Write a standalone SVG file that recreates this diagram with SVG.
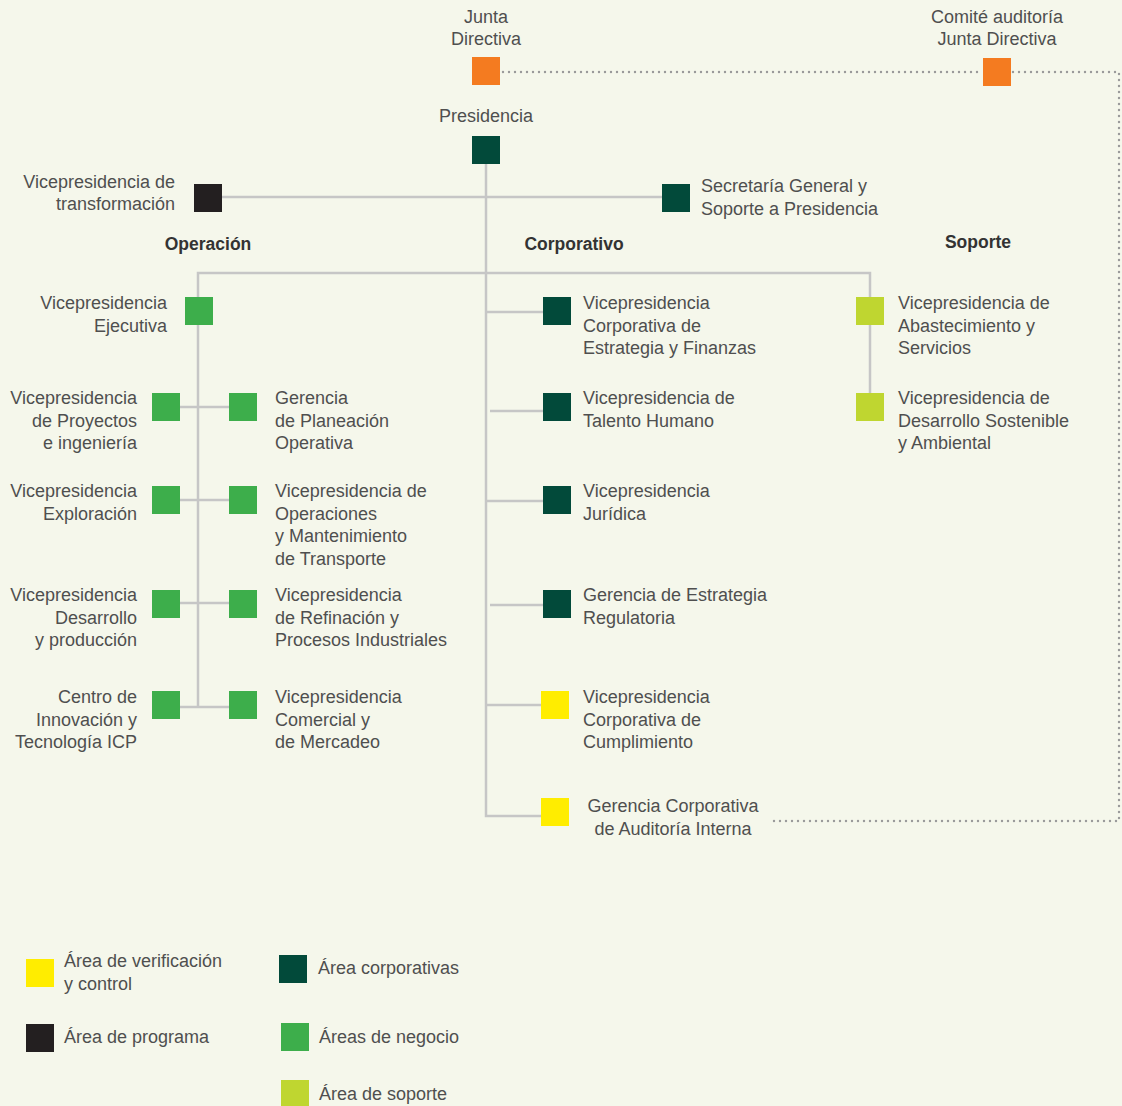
<svg xmlns="http://www.w3.org/2000/svg" width="1122" height="1106" viewBox="0 0 1122 1106">
<style>
text{font-family:"Liberation Sans",Arial,sans-serif;font-size:18px;fill:#4f4f4f}
.h{font-weight:bold;font-size:17.5px;fill:#333}
.e{text-anchor:end}
.m{text-anchor:middle}
.ln{stroke:#c6c6c6;stroke-width:2.5;fill:none}
.dot{stroke:#9a9a9a;stroke-width:2.4;fill:none;stroke-dasharray:0 6;stroke-linecap:round}
.or{fill:#f47b20}.dg{fill:#024a3a}.gr{fill:#3dae4b}.lm{fill:#bfd630}.ye{fill:#ffed00}.bk{fill:#231f20}
</style>
<rect width="1122" height="1106" fill="#f5f7eb"/>
<g id="connectors">
<path class="dot" d="M503,72 H983"/>
<path class="dot" d="M1013,72 H1119 V821 H773"/>
<path class="ln" d="M486,164 V816 H541"/>
<path class="ln" d="M222,197 H662"/>
<path class="ln" d="M198,707 V273 H870 V394"/>
<path class="ln" d="M180,407 H229 M180,500 H229 M180,603 H229 M180,707 H229"/>
<path class="ln" d="M486,312 H543 M490,411 H543 M486,501 H543 M490,605 H543 M486,705 H541"/>
</g>
<g id="headings">
<text class="h m" x="208" y="250">Operación</text>
<text class="h m" x="574" y="250">Corporativo</text>
<text class="h m" x="978" y="248">Soporte</text>
</g>
<g id="junta"><rect class="or" x="472" y="57" width="28" height="28"/><text class="m" x="486" y="23">Junta<tspan x="486" dy="22">Directiva</tspan></text></g>
<g id="comite"><rect class="or" x="983" y="58" width="28" height="28"/><text class="m" x="997" y="23">Comité auditoría<tspan x="997" dy="22">Junta Directiva</tspan></text></g>
<g id="presidencia"><rect class="dg" x="472" y="136" width="28" height="28"/><text class="m" x="486" y="122">Presidencia</text></g>
<g id="vp-transformacion"><rect class="bk" x="194" y="184" width="28" height="28"/><text class="e" x="175" y="188">Vicepresidencia de<tspan x="175" dy="22">transformación</tspan></text></g>
<g id="secretaria"><rect class="dg" x="662" y="184" width="28" height="28"/><text x="701" y="192">Secretaría General y<tspan x="701" dy="23">Soporte a Presidencia</tspan></text></g>
<g id="vp-ejecutiva"><rect class="gr" x="185" y="297" width="28" height="28"/><text class="e" x="167" y="309">Vicepresidencia<tspan x="167" dy="23">Ejecutiva</tspan></text></g>
<g id="vp-proyectos"><rect class="gr" x="152" y="393" width="28" height="28"/><text class="e" x="137" y="404">Vicepresidencia<tspan x="137" dy="22.5">de Proyectos</tspan><tspan x="137" dy="22.5">e ingeniería</tspan></text></g>
<g id="g-planeacion"><rect class="gr" x="229" y="393" width="28" height="28"/><text x="275" y="404">Gerencia<tspan x="275" dy="22.5">de Planeación</tspan><tspan x="275" dy="22.5">Operativa</tspan></text></g>
<g id="vp-exploracion"><rect class="gr" x="152" y="486" width="28" height="28"/><text class="e" x="137" y="497">Vicepresidencia<tspan x="137" dy="23">Exploración</tspan></text></g>
<g id="vp-operaciones"><rect class="gr" x="229" y="486" width="28" height="28"/><text x="275" y="497">Vicepresidencia de<tspan x="275" dy="22.5">Operaciones</tspan><tspan x="275" dy="22.5">y Mantenimiento</tspan><tspan x="275" dy="22.5">de Transporte</tspan></text></g>
<g id="vp-desarrollo"><rect class="gr" x="152" y="590" width="28" height="28"/><text class="e" x="137" y="601">Vicepresidencia<tspan x="137" dy="22.5">Desarrollo</tspan><tspan x="137" dy="22.5">y producción</tspan></text></g>
<g id="vp-refinacion"><rect class="gr" x="229" y="590" width="28" height="28"/><text x="275" y="601">Vicepresidencia<tspan x="275" dy="22.5">de Refinación y</tspan><tspan x="275" dy="22.5">Procesos Industriales</tspan></text></g>
<g id="icp"><rect class="gr" x="152" y="691" width="28" height="28"/><text class="e" x="137" y="703">Centro de<tspan x="137" dy="22.5">Innovación y</tspan><tspan x="137" dy="22.5">Tecnología ICP</tspan></text></g>
<g id="vp-comercial"><rect class="gr" x="229" y="691" width="28" height="28"/><text x="275" y="703">Vicepresidencia<tspan x="275" dy="22.5">Comercial y</tspan><tspan x="275" dy="22.5">de Mercadeo</tspan></text></g>
<g id="vp-estrategia"><rect class="dg" x="543" y="297" width="28" height="28"/><text x="583" y="309">Vicepresidencia<tspan x="583" dy="22.5">Corporativa de</tspan><tspan x="583" dy="22.5">Estrategia y Finanzas</tspan></text></g>
<g id="vp-talento"><rect class="dg" x="543" y="393" width="28" height="28"/><text x="583" y="404">Vicepresidencia de<tspan x="583" dy="22.5">Talento Humano</tspan></text></g>
<g id="vp-juridica"><rect class="dg" x="543" y="486" width="28" height="28"/><text x="583" y="497">Vicepresidencia<tspan x="583" dy="23">Jurídica</tspan></text></g>
<g id="g-regulatoria"><rect class="dg" x="543" y="590" width="28" height="28"/><text x="583" y="601">Gerencia de Estrategia<tspan x="583" dy="23">Regulatoria</tspan></text></g>
<g id="vp-cumplimiento"><rect class="ye" x="541" y="691" width="28" height="28"/><text x="583" y="703">Vicepresidencia<tspan x="583" dy="22.5">Corporativa de</tspan><tspan x="583" dy="22.5">Cumplimiento</tspan></text></g>
<g id="g-auditoria"><rect class="ye" x="541" y="798" width="28" height="28"/><text class="m" x="673" y="812">Gerencia Corporativa<tspan x="673" dy="23">de Auditoría Interna</tspan></text></g>
<g id="vp-abastecimiento"><rect class="lm" x="856" y="297" width="28" height="28"/><text x="898" y="309">Vicepresidencia de<tspan x="898" dy="22.5">Abastecimiento y</tspan><tspan x="898" dy="22.5">Servicios</tspan></text></g>
<g id="vp-sostenible"><rect class="lm" x="856" y="393" width="28" height="28"/><text x="898" y="404">Vicepresidencia de<tspan x="898" dy="22.5">Desarrollo Sostenible</tspan><tspan x="898" dy="22.5">y Ambiental</tspan></text></g>
<g id="legend">
<rect class="ye" x="26" y="959" width="28" height="28"/><text x="64" y="967">Área de verificación<tspan x="64" dy="23">y control</tspan></text>
<rect class="bk" x="26" y="1024" width="28" height="28"/><text x="64" y="1043">Área de programa</text>
<rect class="dg" x="279" y="955" width="28" height="28"/><text x="318" y="974">Área corporativas</text>
<rect class="gr" x="281" y="1023" width="28" height="28"/><text x="319" y="1043">Áreas de negocio</text>
<rect class="lm" x="281" y="1080" width="28" height="28"/><text x="319" y="1100">Área de soporte</text>
</g>
</svg>
